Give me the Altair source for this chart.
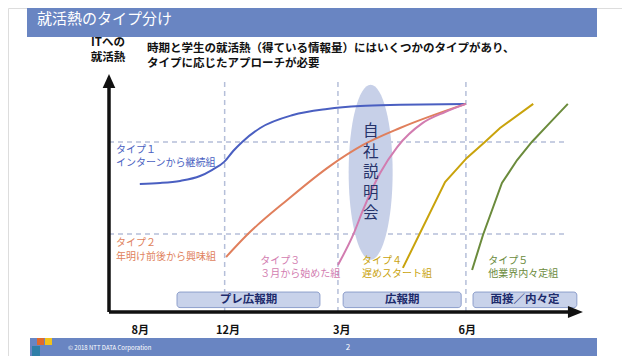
import json
import altair as alt
import pandas as pd

FONT = "Noto Sans CJK JP"

# ---------------- text ----------------
slide_title = "就活熱のタイプ分け"
subtitle = "時期と学生の就活熱（得ている情報量）にはいくつかのタイプがあり、\nタイプに応じたアプローチが必要"
y_title = "ITへの\n就活熱"
footer_text = "© 2018 NTT DATA Corporation"
page_no = "2"

# ---------------- axis (time: 0 = origin, 100 = arrow tip; level: 0..100) ----------------
month_labels = ["8月", "12月", "3月", "6月"]
month_pos = [6.5, 25.0, 49.0, 75.5]
boundary_pos = [24.4, 48.3, 75.3]
level_lines = [33.6, 73.3]

# ---------------- curves ----------------
type_names = ["タイプ１", "タイプ２", "タイプ３", "タイプ４", "タイプ５"]
type_desc = ["インターンから継続組", "年明け前後から興味組", "３月から始めた組", "遅めスタート組", "他業界内々定組"]
type_colors = ["#4a5fc1", "#e07f5c", "#d27cb0", "#c9a30c", "#6b8b3c"]

t1_x = [6.5, 10.8, 15.0, 19.2, 21.7, 24.3, 26.2, 28.1, 31.9, 38.8, 46.0, 53.0, 61.4, 75.3]
t1_y = [55.2, 55.6, 56.5, 58.6, 61.2, 64.7, 69.4, 73.3, 79.3, 84.9, 87.5, 88.8, 89.3, 89.7]
t2_x = [24.7, 29.3, 37.6, 46.6, 53.6, 61.4, 75.3]
t2_y = [23.7, 33.6, 48.3, 62.9, 72.0, 79.3, 89.7]
t3_x = [48.3, 51.5, 53.6, 57.2, 60.8, 66.2, 70.9, 75.3]
t3_y = [20.3, 33.2, 44.0, 59.9, 71.1, 81.5, 86.2, 89.7]
t4_x = [62.0, 70.9, 75.5, 79.3, 82.5, 89.5]
t4_y = [19.0, 56.0, 66.4, 73.3, 79.3, 89.7]
t5_x = [76.6, 78.9, 82.9, 86.1, 89.2, 93.0, 96.8]
t5_y = [18.1, 33.2, 55.6, 65.5, 73.3, 81.5, 89.7]

label_x = [1.5, 1.5, 31.9, 53.4, 80.0]
label_y = [72.0, 31.8, 24.2, 24.2, 24.2]

# ---------------- periods ----------------
period_names = ["プレ広報期", "広報期", "面接／内々定"]
period_start = [14.35, 49.4, 76.8]
period_end = [44.5, 74.3, 98.7]
period_lo, period_hi = 1.9, 8.6

# ---------------- event ----------------
event_text = "自\n社\n説\n明\n会"
event_x, event_y = 55.2, 60.2

# axis extents
x_axis_end, y_axis_end = 97.0, 97.0
x_arrow_at, y_arrow_at = 98.4, 99.6

# ---------------- scales ----------------
XS = alt.Scale(domain=[0, 100], range=[101, 575], nice=False, zero=False)
YS = alt.Scale(domain=[0, 100], range=[304, 72], nice=False, zero=False)
label_expr = (json.dumps(month_labels, ensure_ascii=False) + "[indexof("
              + json.dumps(month_pos) + ", datum.value)]")
XAX = alt.Axis(values=month_pos, labelExpr=label_expr, domain=False, ticks=False, grid=False,
               labelFont=FONT, labelFontSize=11, labelFontWeight="bold", labelColor="#111111",
               labelPadding=0, labelBaseline="middle", labelFlush=False, offset=-26, title=None)


def X(f):
    return alt.X(f, type="quantitative", scale=XS, axis=XAX)


def Y(f):
    return alt.Y(f, type="quantitative", scale=YS, axis=None)


one = alt.Data(values=[{}])

layers = []

# header band & footer band
layers.append(alt.Chart(one).mark_rect(color="#6985c2").encode(
    x=alt.value(19), x2=alt.value(589), y=alt.value(0), y2=alt.value(29)))
layers.append(alt.Chart(one).mark_text(font=FONT, fontSize=15, color="white", align="left",
                                       baseline="middle", text=slide_title).encode(
    x=alt.value(29), y=alt.value(11)))
layers.append(alt.Chart(one).mark_rect(color="#6985c2").encode(
    x=alt.value(22), x2=alt.value(589), y=alt.value(330), y2=alt.value(348)))
layers.append(alt.Chart(one).mark_rect(color="#e06a2c").encode(
    x=alt.value(29), x2=alt.value(36), y=alt.value(330), y2=alt.value(337)))
layers.append(alt.Chart(one).mark_rect(color="#f2c21a").encode(
    x=alt.value(37), x2=alt.value(44), y=alt.value(330), y2=alt.value(337)))
layers.append(alt.Chart(one).mark_rect(color="#2f7fa8").encode(
    x=alt.value(24), x2=alt.value(32), y=alt.value(338), y2=alt.value(348)))
layers.append(alt.Chart(one).mark_text(font=FONT, fontSize=6, color="white", align="left",
                                       baseline="middle", text=footer_text).encode(
    x=alt.value(60), y=alt.value(340)))
layers.append(alt.Chart(one).mark_text(font=FONT, fontSize=8, color="white", align="center",
                                       baseline="middle", text=page_no).encode(
    x=alt.value(340), y=alt.value(340)))

# subtitle and y title
layers.append(alt.Chart(one).mark_text(font=FONT, fontSize=11.5, fontWeight="bold", color="#111111",
                                       align="left", baseline="top", lineHeight=14.5,
                                       text=subtitle.split("\n")).encode(
    x=alt.value(139), y=alt.value(35)))
layers.append(alt.Chart(one).mark_text(font=FONT, fontSize=11.5, fontWeight="bold", color="#111111",
                                       align="center", baseline="top", lineHeight=14.5,
                                       text=y_title.split("\n")).encode(
    x=alt.value(100), y=alt.value(29)))

# dashed reference lines
vdf = pd.DataFrame({"x": boundary_pos, "y0": 0.0, "y1": 100.0})
layers.append(alt.Chart(vdf).mark_rule(color="#b5bfd9", strokeWidth=1.5, strokeDash=[5, 4]).encode(
    x=X("x"), y=Y("y0"), y2="y1"))
hdf = pd.DataFrame({"y": level_lines, "x0": 0.0, "x1": 96.4})
layers.append(alt.Chart(hdf).mark_rule(color="#b5bfd9", strokeWidth=1.5, strokeDash=[5, 4]).encode(
    y=Y("y"), x=X("x0"), x2="x1"))

# event ellipse
edf = pd.DataFrame({"x": [event_x], "y": [event_y], "t": [event_text]})
ellipse = "M0,-1 A0.2514,1 0 1,1 0,1 A0.2514,1 0 1,1 0,-1 Z"
layers.append(alt.Chart(edf).mark_point(shape=ellipse, filled=True, size=175 ** 2, color="#c7d0e8",
                                        opacity=1, strokeWidth=0).encode(x=X("x"), y=Y("y")))

# curves
rows = []
for name, xs, ys in zip(type_names, [t1_x, t2_x, t3_x, t4_x, t5_x], [t1_y, t2_y, t3_y, t4_y, t5_y]):
    for i, (a, b) in enumerate(zip(xs, ys)):
        rows.append({"type": name, "x": a, "y": b, "i": i})
cdf = pd.DataFrame(rows)
color = alt.Color("type:N", scale=alt.Scale(domain=type_names, range=type_colors), legend=None)
smooth = cdf[cdf["type"].isin(type_names[:3])]
straight = cdf[cdf["type"].isin(type_names[3:])]
layers.append(alt.Chart(smooth).mark_line(interpolate="monotone", strokeWidth=2).encode(
    x=X("x"), y=Y("y"), color=color, order="i:Q"))
layers.append(alt.Chart(straight).mark_line(interpolate="linear", strokeWidth=2).encode(
    x=X("x"), y=Y("y"), color=color, order="i:Q"))

# event text (five stacked characters, centred on the ellipse)
layers.append(alt.Chart(edf).mark_text(font=FONT, fontSize=15.5, color="#26336a", lineHeight=20.5,
                                       lineBreak="\n", baseline="middle", align="center",
                                       dy=-41).encode(
    x=X("x"), y=Y("y"), text="t:N"))

# period boxes
pdf = pd.DataFrame({"name": period_names, "x0": period_start, "x1": period_end,
                    "y0": period_lo, "y1": period_hi,
                    "xm": [(a + b) / 2 for a, b in zip(period_start, period_end)],
                    "ym": (period_lo + period_hi) / 2})
layers.append(alt.Chart(pdf).mark_rect(fill="#c8d2ea", stroke="#8d9ecb", strokeWidth=1,
                                       cornerRadius=3).encode(
    x=X("x0"), x2="x1", y=Y("y0"), y2="y1"))
layers.append(alt.Chart(pdf).mark_text(font=FONT, fontSize=11.5, fontWeight="bold", color="#1d2b6c",
                                       baseline="middle", align="center").encode(
    x=X("xm"), y=Y("ym"), text="name:N"))

# type labels
ldf = pd.DataFrame({"type": type_names, "t": [n + "\n" + d for n, d in zip(type_names, type_desc)],
                    "x": label_x, "y": label_y})
layers.append(alt.Chart(ldf).mark_text(font=FONT, fontSize=10, lineHeight=13.5, lineBreak="\n",
                                       align="left", baseline="top").encode(
    x=X("x"), y=Y("y"), text="t:N", color=color))

# axes with arrows
adf = pd.DataFrame({"x0": [0.0, 0.0], "x1": [x_axis_end, 0.0], "y0": [0.0, 0.0], "y1": [0.0, y_axis_end]})
layers.append(alt.Chart(adf).mark_rule(color="#111111", strokeWidth=3.5).encode(
    x=X("x0"), x2="x1", y=Y("y0"), y2="y1"))
layers.append(alt.Chart(pd.DataFrame({"x": [x_arrow_at], "y": [0.0]})).mark_point(
    shape="M-1,-0.8L1,0L-1,0.8Z", filled=True, size=225, color="#111111", opacity=1).encode(
    x=X("x"), y=Y("y")))
layers.append(alt.Chart(pd.DataFrame({"x": [0.0], "y": [y_arrow_at]})).mark_point(
    shape="M0,-1L0.9,1L-0.9,1Z", filled=True, size=196, color="#111111", opacity=1).encode(
    x=X("x"), y=Y("y")))

chart = alt.layer(*layers).properties(
    width=614, height=348, padding=0, autosize=alt.AutoSizeParams(type="none"),
    background="white",
).configure_view(stroke=None).configure(font=FONT)

chart.save("out.html", embed_options={"renderer": "svg", "actions": False})
